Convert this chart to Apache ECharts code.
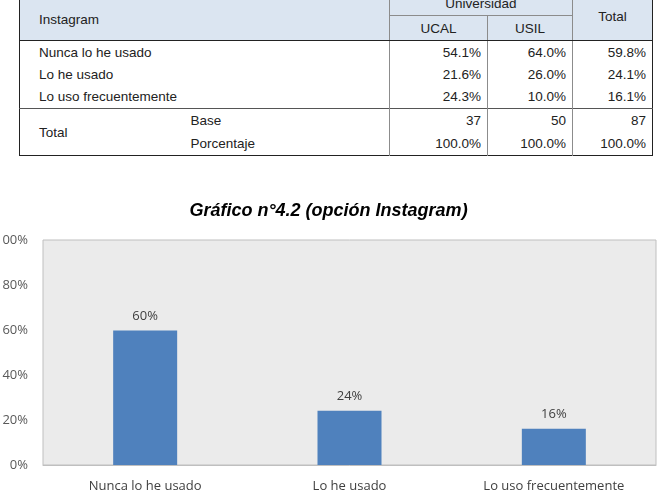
<!DOCTYPE html>
<html>
<head>
<meta charset="utf-8">
<script src="https://cdn.jsdelivr.net/npm/echarts@6/dist/echarts.min.js"></script>
<style>
  html, body { margin: 0; padding: 0; background: #fff; width: 657px; height: 493px; overflow: hidden; }
  #tbl {
    position: absolute; left: 19px; top: -9px;
    border-collapse: collapse; table-layout: fixed;
    font-family: Arial, "Liberation Sans", sans-serif; font-size: 13.5px; color: #222;
    border: 1.5px solid #222;
  }
  #tbl td { padding: 0; white-space: nowrap; }
  #tbl .hd { background: #dbe5f1; }
  #tbl .lbl { padding-left: 19px; text-align: left; }
  #tbl .num { padding-right: 6px; text-align: right; }
  #tbl .ctr { text-align: center; }
  #tbl .vl { border-left: 1px solid #8c8c8c; }
  #tbl .hb { border-bottom: 1.5px solid #222; }
  #tbl .sep { border-top: 1px solid #555; }
  #chart { position: absolute; left: 0; top: 170px; width: 657px; height: 323px; }
</style>
</head>
<body>
<table id="tbl"></table>
<div id="chart"></div>
<script>
// table values
const tableTitle = 'Instagram'
const groupLabel = 'Universidad'
const colLabels = ['UCAL', 'USIL', 'Total']
const rowLabels = ['Nunca lo he usado', 'Lo he usado', 'Lo uso frecuentemente']
const ucalPct = [54.1, 21.6, 24.3]
const usilPct = [64.0, 26.0, 10.0]
const totalPct = [59.8, 24.1, 16.1]
const baseCounts = [37, 50, 87]
const basePct = [100.0, 100.0, 100.0]

// chart values
const chartTitle = 'Gráfico n°4.2 (opción Instagram)'
const categories = ['Nunca lo he usado', 'Lo he usado', 'Lo uso frecuentemente']
const values = [59.8, 24.1, 16.1]
const yTicks = [0, 20, 40, 60, 80, 100]

// build table
const tbl = document.getElementById('tbl')
const widths = [152, 218, 98, 85, 80]
let html = '<colgroup>' + widths.map(w => `<col style="width:${w}px">`).join('') + '</colgroup>'
html += `<tr class="hd" style="height:24px">
  <td class="lbl hb" colspan="2" rowspan="2" style="padding-top:6px">${tableTitle}</td>
  <td class="ctr vl" colspan="2" style="border-bottom:1px solid #8c8c8c">${groupLabel}</td>
  <td class="ctr vl hb" rowspan="2">${colLabels[2]}</td></tr>`
html += `<tr class="hd" style="height:25px">
  <td class="ctr vl hb">${colLabels[0]}</td>
  <td class="ctr vl hb">${colLabels[1]}</td></tr>`
const pct = v => v.toFixed(1) + '%'
rowLabels.forEach((r, i) => {
  html += `<tr style="height:22.7px">
    <td class="lbl" colspan="2">${r}</td>
    <td class="num vl">${pct(ucalPct[i])}</td>
    <td class="num vl">${pct(usilPct[i])}</td>
    <td class="num vl">${pct(totalPct[i])}</td></tr>`
})
html += `<tr style="height:23.5px">
  <td class="lbl sep" rowspan="2">Total</td>
  <td class="sep" style="padding-left:19px">Base</td>
  ${baseCounts.map(v => `<td class="num vl sep">${v}</td>`).join('')}</tr>`
html += `<tr style="height:23.5px">
  <td style="padding-left:19px">Porcentaje</td>
  ${basePct.map(v => `<td class="num vl">${pct(v)}</td>`).join('')}</tr>`
tbl.innerHTML = html

// chart
const chart = echarts.init(document.getElementById('chart'))
const font = '"Open Sans", sans-serif'
chart.setOption({
  animation: false,
  title: {
    text: chartTitle,
    left: 'center',
    top: 27,
    textStyle: { fontFamily: 'Arial, "Liberation Sans", sans-serif', fontSize: 18, fontWeight: 'bold', fontStyle: 'italic', color: '#000' }
  },
  grid: {
    left: 43, right: 1, top: 70, bottom: 28,
    containLabel: false,
    outerBoundsMode: 'none',
    show: true, backgroundColor: '#ebebeb', borderColor: '#bfbfbf', borderWidth: 1
  },
  xAxis: {
    type: 'category',
    data: categories,
    axisLine: { lineStyle: { color: '#bfbfbf' } },
    axisTick: { show: false },
    axisLabel: { color: '#404040', fontFamily: font, fontSize: 13, margin: 15 }
  },
  yAxis: {
    type: 'value',
    min: yTicks[0],
    max: yTicks[yTicks.length - 1],
    interval: 20,
    axisLine: { show: false },
    axisTick: { show: false },
    splitLine: { show: false },
    axisLabel: { color: '#595959', fontFamily: font, fontSize: 13, margin: 15, formatter: '{value}%' }
  },
  series: [{
    type: 'bar',
    data: values,
    barWidth: 64,
    itemStyle: { color: '#4f81bd' },
    label: {
      show: true,
      position: 'top',
      distance: 8,
      color: '#404040',
      fontFamily: font,
      fontSize: 13,
      formatter: p => Math.round(p.value) + '%'
    }
  }]
})
</script>
</body>
</html>
